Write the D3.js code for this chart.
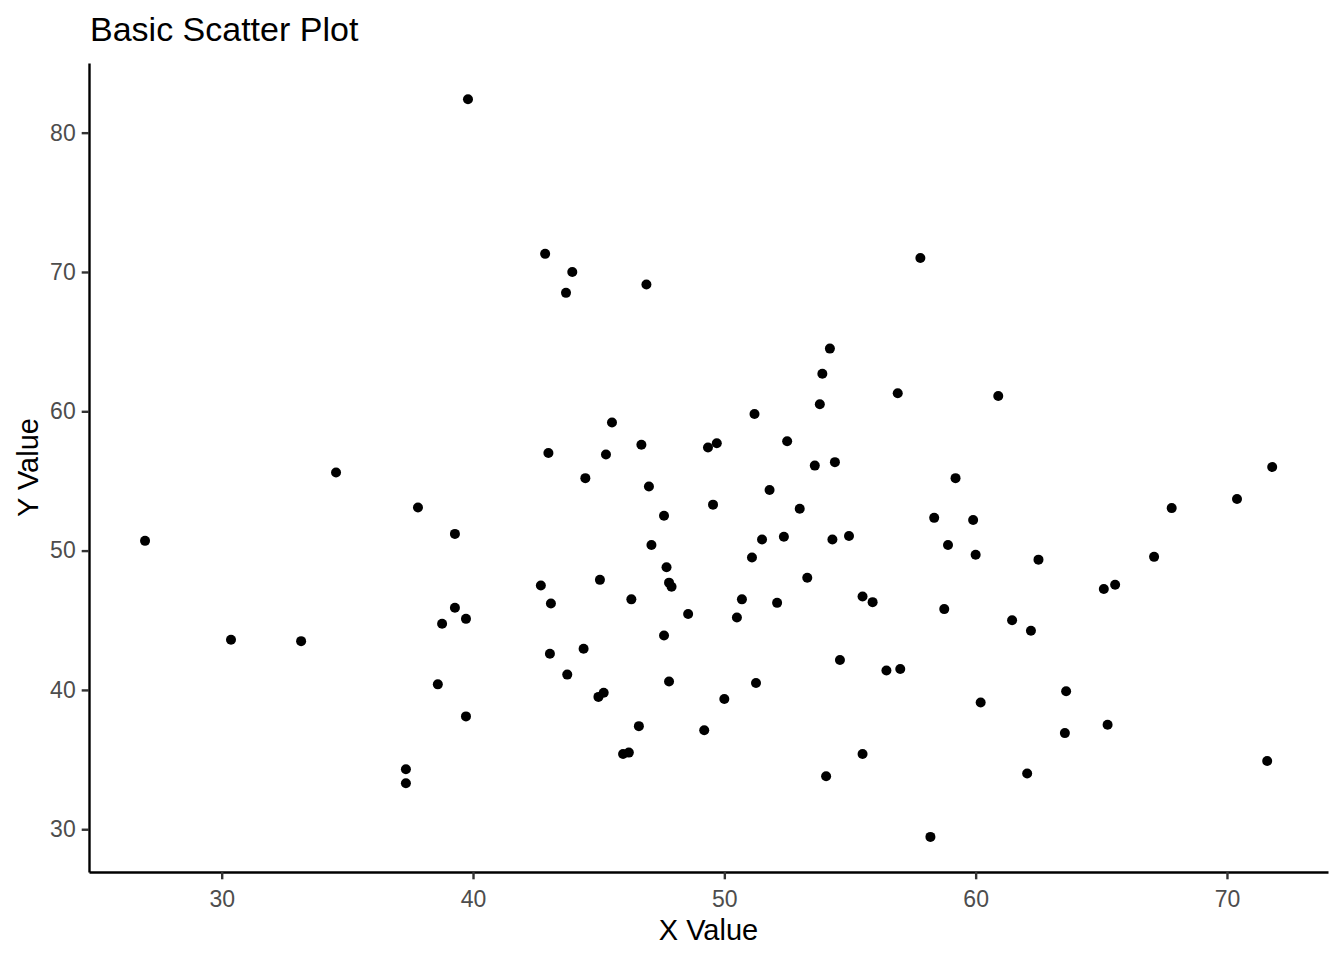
<!DOCTYPE html>
<html>
<head>
<meta charset="utf-8">
<script src="https://cdn.jsdelivr.net/npm/d3@7"></script>
<style>
  html, body { margin: 0; padding: 0; background: #ffffff; }
  svg { display: block; font-family: "Liberation Sans", Arial, sans-serif; }
</style>
</head>
<body>
<svg id="chart" width="1344" height="960"></svg>
<script>
const chartTitle = "Basic Scatter Plot";
const xLabel = "X Value";
const yLabel = "Y Value";
const xTicks = [30, 40, 50, 60, 70];
const yTicks = [30, 40, 50, 60, 70, 80];
const xDomain = [24.72, 74.02];
const yDomain = [26.93, 85.0];

const xValues = [
  26.95, 30.37, 33.16, 34.55, 37.33, 37.33, 37.81, 38.60, 38.77, 39.28,
  39.28, 39.72, 39.72, 39.80, 42.70, 42.87, 43.00, 43.10, 43.06, 43.70,
  43.75, 43.95, 44.40, 44.47, 44.99, 45.20, 45.05, 45.29, 45.53, 45.97,
  46.20, 46.30, 46.60, 46.70, 46.90, 47.00, 47.10, 47.60, 47.60, 47.70,
  47.80, 47.90, 47.80, 48.56, 49.20, 49.35, 49.55, 49.70, 50.00, 50.50,
  50.70, 51.10, 51.20, 51.26, 51.50, 51.80, 52.10, 52.37, 52.50, 53.00,
  53.30, 53.60, 53.80, 53.90, 54.05, 54.20, 54.30, 54.40, 54.60, 54.96,
  55.50, 55.50, 55.90, 56.45, 56.90, 57.00, 57.80, 58.20, 58.35, 58.75,
  58.90, 59.20, 59.90, 60.00, 60.20, 60.90, 61.45, 62.05, 62.20, 62.50,
  63.55, 63.60, 65.10, 65.25, 65.55, 67.10, 67.80, 70.40, 71.60, 71.80
];
const yValues = [
  50.70, 43.60, 43.50, 55.60, 34.30, 33.30, 53.10, 40.40, 44.75, 51.20,
  45.90, 45.10, 38.10, 82.40, 47.50, 71.30, 57.00, 46.20, 42.60, 68.50,
  41.10, 70.00, 42.95, 55.20, 39.50, 39.80, 47.90, 56.90, 59.20, 35.40,
  35.50, 46.50, 37.40, 57.60, 69.10, 54.60, 50.40, 52.50, 43.90, 48.80,
  47.70, 47.40, 40.60, 45.45, 37.10, 57.40, 53.30, 57.70, 39.35, 45.20,
  46.50, 49.50, 59.80, 40.50, 50.80, 54.35, 46.25, 51.00, 57.85, 53.00,
  48.05, 56.10, 60.50, 62.70, 33.80, 64.50, 50.80, 56.35, 42.15, 51.05,
  46.70, 35.40, 46.30, 41.40, 61.30, 41.50, 71.00, 29.45, 52.35, 45.80,
  50.40, 55.20, 52.20, 49.70, 39.10, 61.10, 45.00, 34.00, 44.25, 49.35,
  36.90, 39.90, 47.25, 37.50, 47.55, 49.55, 53.05, 53.70, 34.90, 56.00
];

const W = 1344, H = 960;
const margin = { top: 63, right: 16, bottom: 88, left: 89 };

const svg = d3.select("#chart");
const x = d3.scaleLinear().domain(xDomain).range([margin.left, W - margin.right]);
const y = d3.scaleLinear().domain(yDomain).range([H - margin.bottom, margin.top]);

const points = xValues.map((v, i) => ({ x: v, y: yValues[i] }));

// points
svg.append("g")
  .selectAll("circle")
  .data(points)
  .join("circle")
  .attr("cx", d => x(d.x))
  .attr("cy", d => y(d.y))
  .attr("r", 5)
  .attr("fill", "#000000");

// x axis
const xAxis = svg.append("g")
  .attr("transform", `translate(0,${H - margin.bottom})`)
  .call(d3.axisBottom(x).tickValues(xTicks).tickFormat(d3.format("d")).tickSizeOuter(0).tickSizeInner(7.3).tickPadding(11));
xAxis.select(".domain").attr("stroke", "#000000").attr("stroke-width", 2.4);
xAxis.selectAll(".tick line").attr("stroke", "#333333").attr("stroke-width", 2.4);
xAxis.selectAll(".tick text").attr("fill", "#4D4D4D").attr("font-size", 23)
  .attr("font-family", "'Liberation Sans', Arial, sans-serif");

// y axis
const yAxis = svg.append("g")
  .attr("transform", `translate(${margin.left},0)`)
  .call(d3.axisLeft(y).tickValues(yTicks).tickFormat(d3.format("d")).tickSizeOuter(0).tickSizeInner(7.3).tickPadding(6));
yAxis.select(".domain").attr("stroke", "#000000").attr("stroke-width", 2.4);
yAxis.selectAll(".tick line").attr("stroke", "#333333").attr("stroke-width", 2.4);
yAxis.selectAll(".tick text").attr("fill", "#4D4D4D").attr("font-size", 23)
  .attr("font-family", "'Liberation Sans', Arial, sans-serif");

// title
svg.append("text")
  .attr("x", 90)
  .attr("y", 41)
  .attr("font-size", 34)
  .attr("fill", "#000000")
  .text(chartTitle);

// x label
svg.append("text")
  .attr("x", (margin.left + W - margin.right) / 2)
  .attr("y", 940)
  .attr("text-anchor", "middle")
  .attr("font-size", 29)
  .attr("fill", "#000000")
  .text(xLabel);

// y label
svg.append("text")
  .attr("transform", `translate(38,${(margin.top + H - margin.bottom) / 2}) rotate(-90)`)
  .attr("text-anchor", "middle")
  .attr("font-size", 29)
  .attr("fill", "#000000")
  .text(yLabel);
</script>
</body>
</html>
